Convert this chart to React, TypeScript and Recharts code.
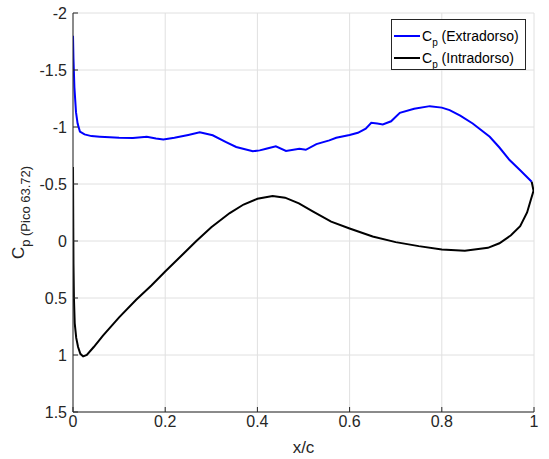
import React from 'react';
import { LineChart, Line, XAxis, YAxis, CartesianGrid, Legend } from 'recharts';

// Upper surface (Extradorso)
const upperX = [0, 0.001, 0.003, 0.0065, 0.01, 0.015, 0.025, 0.04, 0.058, 0.08, 0.1, 0.13, 0.16, 0.18, 0.196, 0.22, 0.25, 0.275, 0.303, 0.332, 0.354, 0.39, 0.405, 0.419, 0.44, 0.462, 0.491, 0.505, 0.528, 0.556, 0.571, 0.6, 0.618, 0.635, 0.647, 0.66, 0.672, 0.69, 0.709, 0.74, 0.774, 0.8, 0.817, 0.84, 0.867, 0.904, 0.925, 0.947, 0.97, 0.995];
const upperCp = [-1.8, -1.6, -1.35, -1.13, -1.03, -0.96, -0.935, -0.92, -0.915, -0.91, -0.905, -0.903, -0.914, -0.9, -0.891, -0.905, -0.93, -0.953, -0.927, -0.868, -0.825, -0.787, -0.795, -0.81, -0.83, -0.79, -0.81, -0.8, -0.85, -0.883, -0.905, -0.93, -0.949, -0.985, -1.037, -1.03, -1.023, -1.05, -1.124, -1.16, -1.183, -1.17, -1.148, -1.1, -1.031, -0.914, -0.82, -0.71, -0.62, -0.52];

// Lower surface (Intradorso)
const lowerX = [0, 0.0005, 0.001, 0.002, 0.0037, 0.007, 0.011, 0.016, 0.022, 0.03, 0.045, 0.065, 0.1, 0.137, 0.17, 0.2, 0.235, 0.267, 0.3, 0.34, 0.37, 0.4, 0.433, 0.46, 0.49, 0.52, 0.56, 0.6, 0.65, 0.7, 0.75, 0.8, 0.85, 0.9, 0.925, 0.95, 0.97, 0.985, 0.993, 0.999, 0.995];
const lowerCp = [-0.65, -0.2, 0.2, 0.5, 0.72, 0.85, 0.93, 0.99, 1.012, 1.0, 0.93, 0.83, 0.67, 0.515, 0.39, 0.267, 0.13, 0.003, -0.12, -0.245, -0.32, -0.37, -0.395, -0.38, -0.33, -0.26, -0.17, -0.11, -0.04, 0.01, 0.045, 0.075, 0.085, 0.06, 0.02, -0.05, -0.13, -0.25, -0.36, -0.44, -0.52];

const xTicks = [0, 0.2, 0.4, 0.6, 0.8, 1];
const yTicks = [-2, -1.5, -1, -0.5, 0, 0.5, 1, 1.5];

const seriesNames = ['(Extradorso)', '(Intradorso)'];
const seriesColors = ['#0000ff', '#000000'];

const upperData = upperX.map((x, i) => ({ x, cp: upperCp[i] }));
const lowerData = lowerX.map((x, i) => ({ x, cp: lowerCp[i] }));

const FONT = '"Liberation Sans", Arial, Helvetica, sans-serif';
const AXIS = '#262626';

const YLabel = (props: any) => {
  const vb = props.viewBox || {};
  const cx = 24;
  const cy = vb.y + vb.height / 2;
  return (
    <text
      x={cx}
      y={cy}
      transform={`rotate(-90, ${cx}, ${cy})`}
      textAnchor="middle"
      fill={AXIS}
      fontFamily={FONT}
    >
      <tspan fontSize={17}>C</tspan>
      <tspan fontSize={13} dy={6}>p (Pico 63.72)</tspan>
    </text>
  );
};

const XLabel = (props: any) => {
  const vb = props.viewBox || {};
  const cx = vb.x + vb.width / 2;
  return (
    <text x={cx} y={453} textAnchor="middle" fill={AXIS} fontFamily={FONT} fontSize={17}>
      x/c
    </text>
  );
};

const LegendBox = () => (
  <div
    style={{
      width: 133,
      height: 49,
      border: `1px solid ${AXIS}`,
      background: '#fff',
    }}
  >
    <svg width={133} height={49}>
      {seriesNames.map((n, i) => {
        const y = 16 + i * 22;
        return (
          <g key={n}>
            <line x1={2} x2={28} y1={y} y2={y} stroke={seriesColors[i]} strokeWidth={2} />
            <text x={30} y={y + 5} fontFamily={FONT} fill="#000">
              <tspan fontSize={14}>C</tspan>
              <tspan fontSize={10} dy={5}>p</tspan>
              <tspan fontSize={14} dy={-5}>{' ' + n}</tspan>
            </text>
          </g>
        );
      })}
    </svg>
  </div>
);

export default function App() {
  return (
    <div style={{ position: 'absolute', left: 0, top: 0, width: 549, height: 459, background: '#fff' }}>
      <LineChart width={549} height={459} margin={{ top: 13, right: 15, bottom: 0, left: 0 }}>
        <CartesianGrid stroke="#e0e0e0" strokeWidth={1} />
        <XAxis
          type="number"
          dataKey="x"
          domain={[0, 1]}
          ticks={xTicks}
          interval={0}
          height={47}
          stroke={AXIS}
          tickSize={-5}
          tickMargin={9}
          tick={{ fill: AXIS, fontSize: 16, fontFamily: FONT }}
          allowDataOverflow
          label={<XLabel />}
        />
        <YAxis
          type="number"
          dataKey="cp"
          domain={[-2, 1.5]}
          reversed
          ticks={yTicks}
          interval={0}
          width={73}
          stroke={AXIS}
          tickSize={-5}
          tickMargin={11}
          tick={{ fill: AXIS, fontSize: 16, fontFamily: FONT }}
          allowDataOverflow
          label={<YLabel />}
        />
        <Legend
          layout="vertical"
          align="center"
          verticalAlign="middle"
          content={<LegendBox />}
          wrapperStyle={{ position: 'absolute', left: 391, top: 19, width: 135, height: 51 }}
        />
        <Line
          data={upperData}
          dataKey="cp"
          type="linear"
          stroke={seriesColors[0]}
          strokeWidth={2}
          dot={false}
          isAnimationActive={false}
        />
        <Line
          data={lowerData}
          dataKey="cp"
          type="linear"
          stroke={seriesColors[1]}
          strokeWidth={2}
          dot={false}
          isAnimationActive={false}
        />
      </LineChart>
    </div>
  );
}
